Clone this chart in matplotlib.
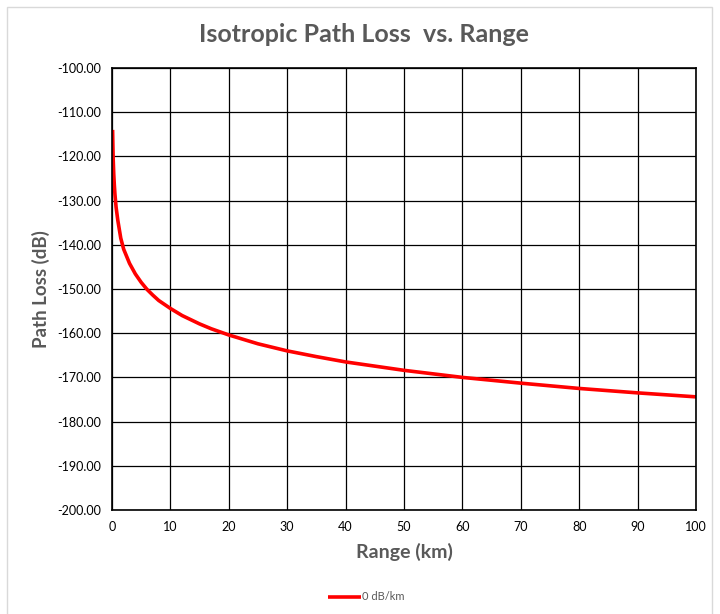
import matplotlib.pyplot as plt
from matplotlib.patches import Rectangle

# range (km) and path loss (dB)
range_km = [0.1, 0.15, 0.2, 0.3, 0.4, 0.5, 0.7, 1, 1.5, 2, 3, 4, 5, 6, 7, 8,
            10, 12, 15, 17, 20, 25, 30, 35, 40, 50, 60, 70, 80, 90, 100]
path_loss = [-114, -117.5, -120.5, -124, -126.5, -128.5, -131.5, -134.5, -138.5,
             -141, -144.2, -146.6, -148.5, -150.1, -151.4, -152.6, -154.4, -156,
             -157.9, -159.0, -160.4, -162.4, -164, -165.3, -166.5, -168.4, -170,
             -171.3, -172.5, -173.5, -174.4]
series_label = "0 dB/km"

x_ticks = list(range(0, 101, 10))
y_ticks = list(range(-200, -99, 10))

plt.rcParams["font.family"] = ["Lato", "DejaVu Sans"]
gray = "#595959"

fig = plt.figure(figsize=(7.2, 6.14), dpi=100)
fig.patches.append(Rectangle((7 / 720, -0.01), 705 / 720, 1 - 7 / 614 + 0.01,
                             transform=fig.transFigure, fill=False,
                             edgecolor="#d9d9d9", linewidth=1))
ax = fig.add_axes([112 / 720, 1 - 510 / 614, 584 / 720, 442 / 614])

ax.plot(range_km, path_loss, color="#ff0000", linewidth=2.6,
        solid_capstyle="butt", label=series_label)

ax.set_xlim(0, 100)
ax.set_ylim(-200, -100)
ax.set_xticks(x_ticks)
ax.set_yticks(y_ticks)
ax.set_yticklabels([f"{v:.2f}" for v in y_ticks])
ax.tick_params(length=0, labelsize=9, colors="#000000", pad=8)
ax.grid(True, color="#000000", linewidth=0.9)
ax.set_axisbelow(True)
for s in ax.spines.values():
    s.set_color("#000000")
    s.set_linewidth(1.2)

fig.text(364 / 720, 1 - 35 / 614, "Isotropic Path Loss  vs. Range", fontsize=18,
         fontweight="bold", color=gray, ha="center", va="center")
ax.set_xlabel("Range (km)", fontsize=14, fontweight="bold", color=gray, labelpad=7)
ax.set_ylabel("Path Loss (dB)", fontsize=13.5, fontweight="bold", color=gray, labelpad=5)

fig.legend(loc="center", bbox_to_anchor=(366 / 720, 1 - 597 / 614), frameon=False,
           fontsize=8, labelcolor=gray, handlelength=3.0, handletextpad=0.1)

fig.savefig("out.png", dpi=100)
